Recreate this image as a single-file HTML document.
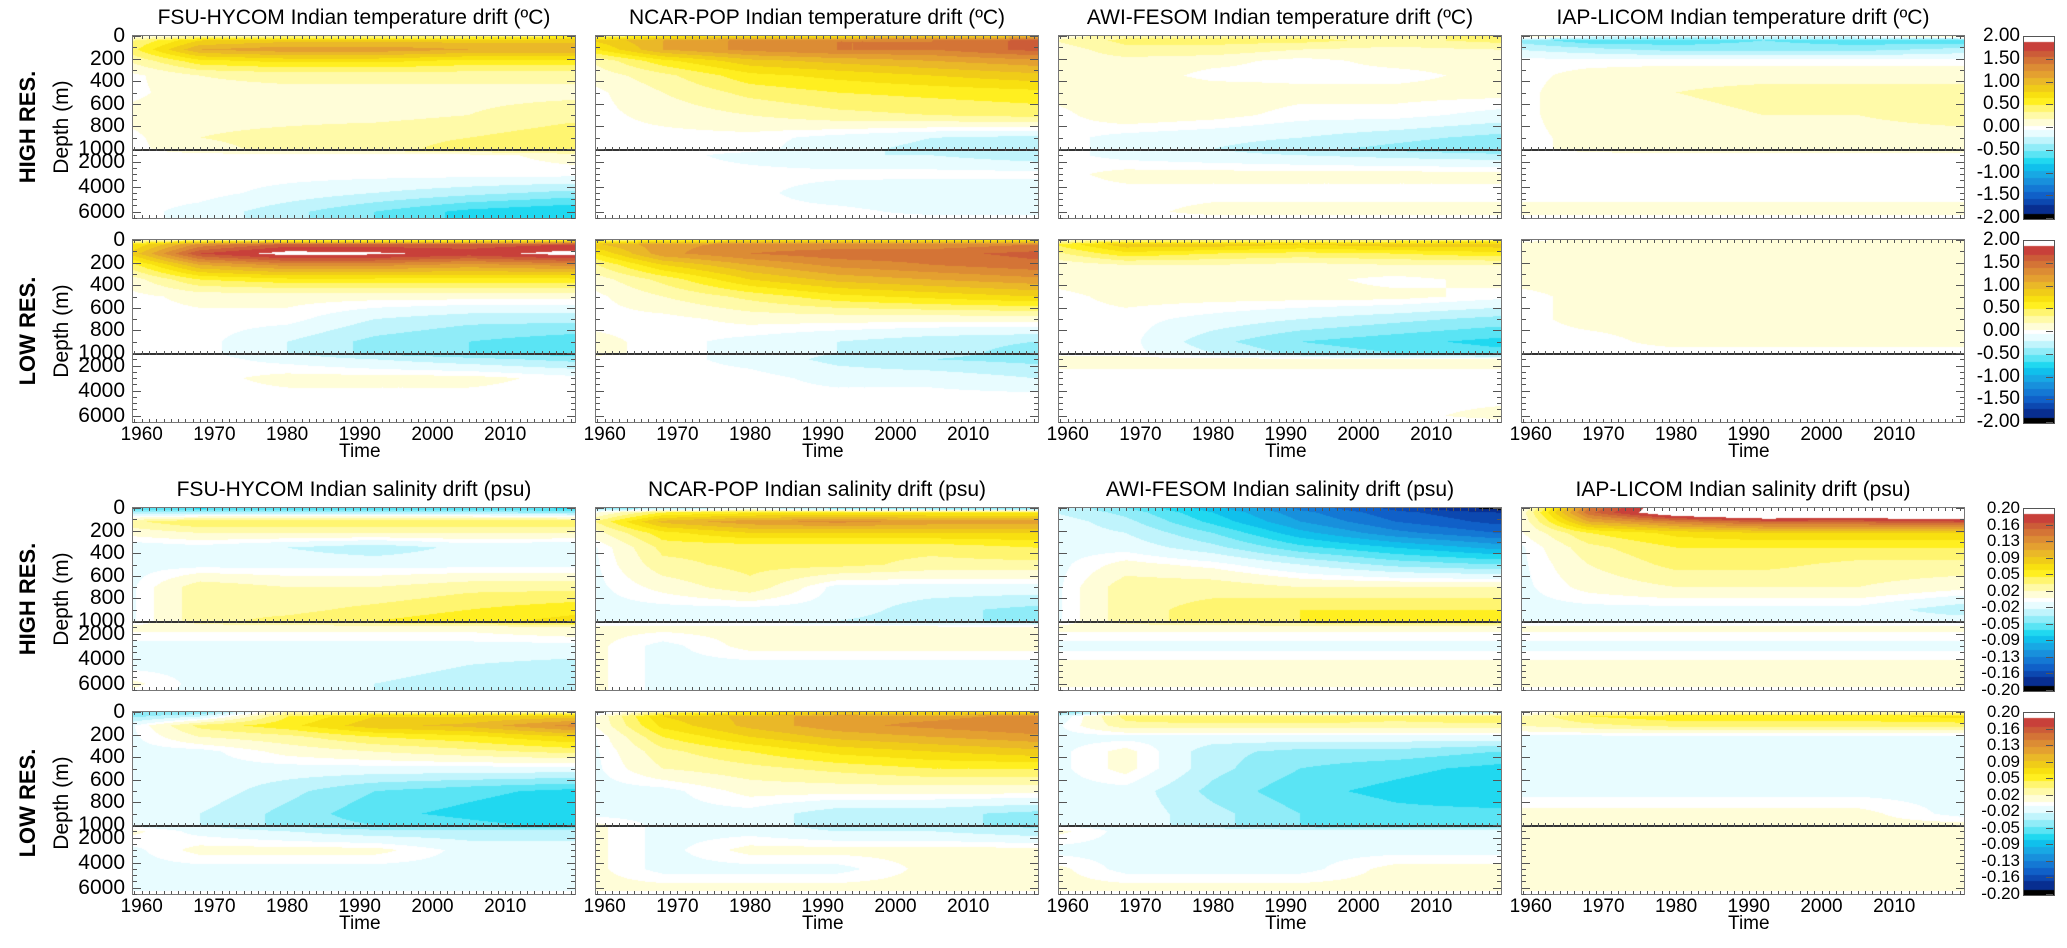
<!DOCTYPE html>
<html><head><meta charset="utf-8">
<style>
body{margin:0;background:#fff;width:2067px;height:948px;overflow:hidden;position:relative;font-family:"Liberation Sans",sans-serif;color:#000}
.abs{position:absolute}
.title{position:absolute;font-size:21px;white-space:nowrap;text-align:center;width:470px}
.yt{position:absolute;font-size:21px;text-align:right;width:80px;line-height:20px}
.xt{position:absolute;font-size:19px;width:60px;text-align:center}
.cbl{position:absolute;font-size:19px;text-align:right;width:60px;line-height:18px}
.rot{position:absolute;transform:rotate(-90deg);transform-origin:center;white-space:nowrap;text-align:center;width:200px}
</style></head><body>
<script>
// ---- grid coordinates ----
const years = [1958, 1968, 1980, 1992, 2005, 2019];
const depths = [0, 40, 120, 220, 350, 500, 700, 900, 1000, 1500, 3000, 4500, 6000, 6500];
const titles = ["FSU-HYCOM","NCAR-POP","AWI-FESOM","IAP-LICOM"];
const xTickLabels = [1960,1970,1980,1990,2000,2010];
const depthTickLabelsTop = [0,200,400,600,800,1000];
const depthTickLabelsBot = [2000,4000,6000];
const tempCbLabels = ["2.00","1.50","1.00","0.50","0.00","-0.50","-1.00","-1.50","-2.00"];
const salCbLabels = ["0.20","0.16","0.13","0.09","0.05","0.02","-0.02","-0.05","-0.09","-0.13","-0.16","-0.20"];
// ---- temperature drift (degC), rows = depths, cols = years ----
const tHighFSU = [[0,.2,.3,.3,.3,.5],[.3,.8,.9,.9,.9,.9],[.4,1.1,1.2,1.2,1.1,1.1],[.2,.6,.7,.7,.6,.6],[0,.2,.25,.25,.25,.25],[0,.15,.15,.15,.15,.15],[.1,.15,.15,.15,.2,.3],[0,.2,.25,.3,.35,.45],[0,.15,.25,.3,.4,.5],[0,0,0,0,0,.1],[0,0,0,0,0,0],[0,0,-.1,-.2,-.3,-.4],[0,-.1,-.3,-.5,-.7,-.8],[0,-.1,-.3,-.5,-.7,-.8]];
const tHighNCAR = [[.3,.6,.7,.7,.8,.9],[.8,1.1,1.3,1.4,1.4,1.6],[.6,1.1,1.3,1.4,1.4,1.6],[.2,.6,.9,1,1.1,1.2],[.1,.3,.6,.7,.8,.9],[0,.2,.4,.5,.55,.6],[0,.1,.2,.3,.35,.4],[0,0,0,-.1,-.2,-.25],[0,0,0,-.15,-.25,-.35],[0,0,-.1,-.2,-.2,-.3],[0,0,0,0,0,0],[0,0,0,-.15,-.2,-.2],[0,0,0,0,-.1,-.1],[0,0,0,0,0,0]];
const tHighAWI = [[.1,.3,.3,.3,.3,.4],[.2,.4,.4,.4,.3,.4],[.1,.3,.3,.2,.15,.2],[.1,.15,.1,0,.1,.1],[.1,.15,0,0,0,.1],[.1,.15,.15,.1,.1,.1],[0,.15,.1,0,0,-.1],[0,-.1,-.15,-.2,-.3,-.4],[0,-.1,-.2,-.3,-.4,-.5],[0,-.1,-.15,-.2,-.25,-.3],[0,.1,.1,.1,.1,.1],[0,0,0,0,0,0],[0,0,.1,.1,.1,.1],[0,0,0,0,0,0]];
const tHighIAP = [[.3,0,-.1,-.1,0,.3],[-.4,-.6,-.6,-.5,-.6,-.6],[-.2,-.3,-.4,-.4,-.4,-.3],[0,0,0,0,0,0],[0,.1,.15,.15,.15,.15],[0,.15,.2,.25,.25,.25],[0,.15,.15,.2,.2,.25],[0,.1,.15,.15,.15,.15],[0,.1,.15,.15,.15,.15],[0,0,0,0,0,0],[0,0,0,0,0,0],[0,0,0,0,0,0],[.1,.1,.1,.1,.1,.1],[0,0,0,0,0,0]];
const tLowFSU = [[.1,.3,.4,.4,.4,.4],[.6,1.3,1.6,1.6,1.6,1.7],[.8,1.7,2,1.95,1.8,2],[.4,1.1,1.3,1.3,1.2,1.3],[.1,.5,.6,.6,.6,.6],[0,.1,.1,.1,.1,.1],[0,0,0,-.2,-.3,-.3],[0,0,-.2,-.4,-.5,-.6],[0,0,-.2,-.4,-.5,-.6],[0,0,-.1,-.2,-.3,-.4],[0,0,.1,.1,.1,0],[0,0,0,0,0,0],[0,0,0,0,0,0],[0,0,0,0,0,0]];
const tLowNCAR = [[.3,.5,.6,.6,.6,.7],[.9,1.2,1.3,1.3,1.3,1.4],[.6,1.2,1.4,1.5,1.5,1.6],[.3,.8,1.1,1.3,1.4,1.5],[.1,.4,.8,1,1.1,1.2],[0,.2,.4,.6,.7,.8],[0,0,.1,.1,.1,.1],[.1,0,-.1,-.2,-.3,-.35],[.1,0,-.1,-.2,-.3,-.4],[0,0,-.1,-.25,-.35,-.4],[0,0,0,-.1,-.1,-.2],[0,0,0,0,0,0],[0,0,0,0,0,0],[0,0,0,0,0,0]];
const tLowAWI = [[.1,.3,.3,.3,.3,.4],[.5,.9,.9,.8,.9,.9],[.3,.6,.5,.45,.5,.6],[.1,.2,.2,.15,.2,.2],[.1,.15,.15,.1,0,.1],[0,.1,.1,.1,.1,0],[0,0,-.1,-.2,-.3,-.4],[0,0,-.3,-.5,-.6,-.7],[0,0,-.2,-.4,-.5,-.6],[.1,.1,.1,.1,.1,.1],[0,0,0,0,0,0],[0,0,0,0,0,0],[0,0,0,0,0,.1],[0,0,0,0,0,0]];
const tLowIAP = [[0,.1,.1,.1,.1,.1],[.1,.1,.1,.1,.1,.1],[.1,.1,.1,.1,.1,.1],[.1,.1,.1,.1,.1,.1],[.1,.1,.1,.1,.15,.2],[0,.1,.1,.1,.1,.1],[0,.1,.1,.1,.1,.1],[0,0,.1,.1,.1,.1],[0,0,0,0,0,0],[0,0,0,0,0,0],[0,0,0,0,0,0],[0,0,0,0,0,0],[0,0,0,0,0,0],[0,0,0,0,0,0]];
// ---- salinity drift (psu) ----
const sHighFSU = [[-.06,-.07,-.06,-.06,-.06,-.07],[-.03,-.03,-.03,-.03,-.03,-.04],[.03,.05,.05,.05,.05,.05],[.01,.02,.02,.02,.02,.02],[-.015,-.01,-.02,-.03,-.015,-.02],[-.01,-.01,-.01,-.01,-.01,-.01],[-.01,.03,.02,.02,.03,.03],[-.01,.03,.03,.04,.05,.06],[-.01,.03,.04,.05,.06,.07],[.01,.01,.01,.01,.01,.02],[-.01,-.01,-.01,-.01,-.01,-.01],[-.01,-.01,-.01,-.015,-.02,-.025],[.01,-.01,-.015,-.02,-.025,-.03],[.005,-.01,-.015,-.02,-.025,-.03]];
const sHighNCAR = [[-.05,-.04,-.02,-.05,-.06,-.06],[0,.05,.06,.06,.06,.06],[.03,.1,.12,.13,.12,.12],[.01,.06,.08,.08,.08,.08],[-.01,.04,.04,.04,.04,.05],[-.01,.03,.04,.04,.03,.03],[-.01,.01,.03,-.01,-.01,-.01],[-.01,-.01,-.01,-.01,-.03,-.04],[-.01,-.01,-.01,-.02,-.03,-.04],[.01,.01,.01,.01,.01,.01],[.01,-.01,.01,.01,.01,.01],[.01,-.01,-.01,-.01,-.01,-.01],[.01,-.01,-.01,-.01,-.01,-.01],[.01,-.01,-.01,-.01,-.01,-.01]];
const sHighAWI = [[-.02,-.05,-.09,-.13,-.16,-.2],[-.02,-.04,-.08,-.12,-.15,-.17],[-.01,-.03,-.07,-.11,-.14,-.16],[-.01,-.02,-.05,-.09,-.12,-.14],[-.01,-.01,-.03,-.06,-.08,-.1],[-.01,.01,0,-.02,-.04,-.05],[-.01,.03,.03,.02,.02,.02],[-.01,.03,.04,.05,.05,.05],[-.01,.03,.04,.05,.06,.06],[.01,.01,.01,.01,.01,.01],[-.01,-.01,-.01,-.01,-.01,-.01],[.01,.01,.01,.01,.01,.01],[.01,.01,.01,.01,.01,.01],[0,0,0,0,0,0]];
const sHighIAP = [[-.01,.14,.22,.26,.24,.26],[0,.15,.22,.25,.24,.25],[0,.11,.14,.16,.16,.17],[0,.05,.07,.08,.08,.08],[-.01,.03,.05,.05,.05,.05],[-.01,.02,.04,.04,.03,.03],[-.01,.01,.02,.02,.02,.01],[-.01,-.01,-.01,-.01,-.01,-.03],[-.01,-.01,-.01,-.01,-.01,-.01],[.01,.01,.01,.01,.01,.01],[-.01,-.01,-.01,-.01,-.01,-.01],[.01,.01,.01,.01,.01,.01],[.01,.01,.01,.01,.01,.01],[0,0,0,0,0,0]];
const sLowFSU = [[-.05,-.05,.02,.02,.02,.02],[-.04,-.02,.05,.08,.08,.09],[-.01,.04,.06,.09,.1,.13],[-.01,.02,.03,.05,.06,.08],[-.01,-.01,.01,.02,.03,.04],[-.02,-.01,-.01,-.01,-.01,-.01],[-.01,-.01,-.03,-.05,-.06,-.07],[-.01,-.02,-.04,-.06,-.07,-.08],[-.01,-.02,-.04,-.05,-.06,-.07],[.01,-.01,-.02,-.03,-.03,-.03],[-.01,.01,.01,.01,-.01,-.01],[-.01,-.01,-.01,-.01,-.01,-.01],[-.01,-.01,-.01,-.01,-.01,-.01],[0,0,0,0,0,0]];
const sLowNCAR = [[-.02,.03,.05,.08,.06,.06],[0,.08,.1,.12,.12,.13],[0,.07,.1,.12,.13,.14],[-.01,.05,.08,.1,.11,.12],[-.01,.03,.05,.07,.08,.09],[-.01,.02,.03,.04,.05,.05],[-.01,-.01,.01,.01,.01,.01],[-.01,-.01,-.01,-.03,-.03,-.04],[.01,-.01,-.01,-.03,-.03,-.04],[.01,-.01,-.01,-.02,-.02,-.03],[.01,-.01,.01,.01,.01,.01],[.01,-.01,-.01,-.01,.01,.01],[.01,.01,.01,.01,.01,.01],[0,0,0,0,0,0]];
const sLowAWI = [[-.05,-.02,-.02,-.03,-.04,-.04],[-.02,.04,.05,.05,.04,.05],[-.01,.03,.03,.03,.03,.03],[-.01,-.01,-.01,-.01,-.01,-.01],[-.01,.01,-.03,-.04,-.04,-.05],[-.01,.01,-.03,-.05,-.06,-.07],[-.01,-.01,-.04,-.06,-.07,-.08],[-.01,-.01,-.03,-.05,-.06,-.06],[-.01,-.01,-.03,-.05,-.06,-.06],[.01,-.01,-.01,-.01,-.01,-.01],[-.01,-.01,-.01,-.01,-.01,-.01],[.01,-.01,-.01,-.01,.01,.01],[.01,.01,.01,.01,.01,.01],[0,0,0,0,0,0]];
const sLowIAP = [[-.01,.02,.02,.02,.02,.02],[.02,.05,.06,.06,.06,.07],[.02,.03,.04,.04,.04,.04],[-.01,-.01,-.01,-.01,-.01,-.01],[-.01,-.01,-.01,-.01,-.01,-.01],[-.01,-.01,-.01,-.01,-.01,-.01],[-.01,-.01,-.01,-.01,-.01,-.01],[.01,.01,.01,.01,.01,-.01],[.01,.01,.01,.01,.01,.01],[.01,.01,.01,.01,.01,.01],[.01,.01,.01,.01,.01,.01],[.01,.01,.01,.01,.01,.01],[.01,.01,.01,.01,.01,.01],[0,0,0,0,0,0]];

const rows = [
 {fields:[tHighFSU,tHighNCAR,tHighAWI,tHighIAP], sal:false, res:"HIGH RES.", top:36, xlab:false, titled:true},
 {fields:[tLowFSU,tLowNCAR,tLowAWI,tLowIAP], sal:false, res:"LOW RES.", top:240, xlab:true, titled:false},
 {fields:[sHighFSU,sHighNCAR,sHighAWI,sHighIAP], sal:true, res:"HIGH RES.", top:508, xlab:false, titled:true},
 {fields:[sLowFSU,sLowNCAR,sLowAWI,sLowIAP], sal:true, res:"LOW RES.", top:712, xlab:true, titled:false}
];
const LV=[-1.9,-1.7,-1.55,-1.4,-1.25,-1.1,-0.95,-0.8,-0.65,-0.5,-0.35,-0.2,-0.05,0.05,0.2,0.35,0.5,0.65,0.8,0.95,1.1,1.25,1.4,1.55,1.7,1.9];
const COLS=['#000000','#082e90','#0c48b0','#1060c8','#1478d4','#1890dc','#18a8e4','#10c0ec','#20d8f0','#5ae4f4','#90ecf8','#c0f4fc','#e8fcff','#ffffff','#fffdd8','#fffaa8','#fff570','#ffef20','#f8e010','#f0cc18','#eab828','#e4a030','#dc8c34','#d47436','#cc5c38','#c8403a','#ffffff'];
const RGB=COLS.map(c=>[parseInt(c.substr(1,2),16),parseInt(c.substr(3,2),16),parseInt(c.substr(5,2),16)]);
function colorIdx(u){let i=0;while(i<LV.length&&u>=LV[i])i++;return i;}
const PW=442, PH=182, BRK=113, X0=1958.8, X1=2019.6;
const colL=[133,596,1059,1522];
function xScale(yr){return (yr-X0)/(X1-X0)*PW;}
function yScale(d){return d<=1000? d/1000*BRK : BRK+(d-1000)/5500*(PH-BRK);}
function yInv(y){return y<=BRK? y/BRK*1000 : 1000+(y-BRK)/(PH-BRK)*5500;}
function interp(f,yr,d){
 let i=0;while(i<years.length-2&&yr>years[i+1])i++;
 let j=0;while(j<depths.length-2&&d>depths[j+1])j++;
 let tx=Math.max(0,Math.min(1,(yr-years[i])/(years[i+1]-years[i])));
 let ty=Math.max(0,Math.min(1,(d-depths[j])/(depths[j+1]-depths[j])));
 const a=f[j][i],b=f[j][i+1],c=f[j+1][i],e=f[j+1][i+1];
 return (a*(1-tx)+b*tx)*(1-ty)+(c*(1-tx)+e*tx)*ty;
}
function el(tag,cls,txt){const e=document.createElement(tag);if(cls)e.className=cls;if(txt!==undefined)e.textContent=txt;document.body.appendChild(e);return e;}
function line(x,y,w,h,c){const e=el('div','abs');e.style.cssText+=`left:${x}px;top:${y}px;width:${w}px;height:${h}px;background:${c}`;return e;}

rows.forEach((r,ri)=>{
 const T=r.top;
 const rl=el('div','rot',r.res);
 
 
 rl.style.cssText+=`left:${28-100}px;top:${T+PH/2-13}px;font-size:22px;font-weight:bold;line-height:26px`;
 const dl=el('div','rot','Depth (m)');
 
 
 dl.style.cssText+=`left:${62-100}px;top:${T+PH/2-12}px;font-size:21px;line-height:24px`;
 r.fields.forEach((f,ci)=>{
  const L=colL[ci];
  if(r.titled){
   const tt=el('div','title',`${titles[ci]} Indian ${r.sal?'salinity drift (psu)':'temperature drift (ºC)'}`);
   
   
   tt.style.left=(L+PW/2-235)+'px';tt.style.top=(T-30)+'px';
  }
  const cv=document.createElement('canvas');
  cv.width=PW;cv.height=PH;
  
  
  cv.style.cssText=`position:absolute;left:${L}px;top:${T}px`;
  document.body.appendChild(cv);
  const ctx=cv.getContext('2d');const img=ctx.createImageData(PW,PH);
  const sc=r.sal?10:1;
  for(let y=0;y<PH;y++){const d=yInv(y+0.5);for(let x=0;x<PW;x++){
   const yr=X0+(x+0.5)/PW*(X1-X0);
   const u=interp(f,yr,d)*sc;const c=RGB[colorIdx(u)];const k=(y*PW+x)*4;
   img.data[k]=c[0];img.data[k+1]=c[1];img.data[k+2]=c[2];img.data[k+3]=255;}}
  ctx.putImageData(img,0,0);
  const fr=el('div','abs');
  
  
  fr.style.cssText+=`left:${L-1}px;top:${T-1}px;width:${PW}px;height:${PH}px;border:1px solid #777`;
  const bl=line(L,T+BRK,PW,1.5,'#333');
  
  
  for(let yy=X0|0;yy<=X1;yy++){const x=L+xScale(yy);if(x<L||x>L+PW)continue;line(x,T,1,3,'#555');line(x,T+PH-3,1,3,'#555');line(x,T+BRK-2,1,4,'#555');}
  for(let d=0;d<=1000;d+=100){const y=T+yScale(d);const len=d%200==0?8:4;line(L,y,len,1,'#555');line(L+PW-len,y,len,1,'#555');}
  for(let d=1500;d<=6500;d+=500){const y=T+yScale(d);const len=d%2000==0?8:4;line(L,y,len,1,'#555');line(L+PW-len,y,len,1,'#555');}
  if(ci===0){
   depthTickLabelsTop.concat(depthTickLabelsBot).forEach(d=>{
    const t=el('div','yt',String(d));
    
    
    t.style.left=(L-88)+'px';t.style.top=(T+yScale(d)-10)+'px';});
  }
  if(r.xlab){
   xTickLabels.forEach(yv=>{
    const t=el('div','xt',String(yv));
    
    
    t.style.left=(L+xScale(yv)-30)+'px';t.style.top=(T+PH+2)+'px';});
   const tm=el('div','xt','Time');
   
   
   tm.style.left=(L+xScale(1990)-30)+'px';tm.style.top=(T+PH+19)+'px';
  }
 });
 const cb=document.createElement('canvas');cb.width=30;cb.height=PH;
 
 
 cb.style.cssText=`position:absolute;left:2023px;top:${T}px;border:1px solid #555;box-sizing:border-box`;
 document.body.appendChild(cb);
 const cctx=cb.getContext('2d');
 for(let y=0;y<PH;y++){const u=2-(y+0.5)/PH*4;cctx.fillStyle=COLS[colorIdx(u)];cctx.fillRect(0,y,30,1);}
 const labs=r.sal?salCbLabels:tempCbLabels;
 labs.forEach((s,i)=>{const y=T+i*(PH/(labs.length-1));
  const t=el('div','cbl',s);
  
  
  t.style.left='1960px';t.style.top=(y-9)+'px';
  if(r.sal){t.style.fontSize='17px';t.style.lineHeight='16px';t.style.top=(y-8)+'px';}
  line(2046,y,7,1,'#555');});
});
</script>
</body></html>
